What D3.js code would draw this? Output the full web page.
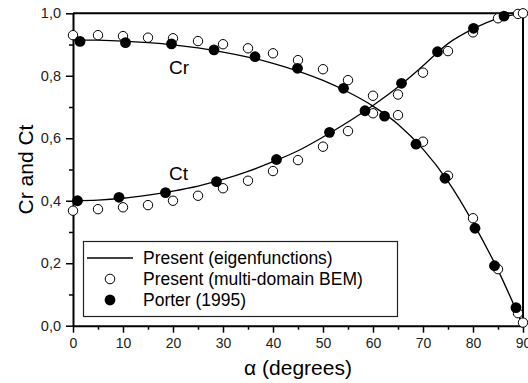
<!DOCTYPE html>
<html>
<head>
<meta charset="utf-8">
<script src="https://cdn.jsdelivr.net/npm/d3@7"></script>
<style>
  body { margin: 0; background: #fff; }
  svg { display: block; font-family: Arial, "Liberation Sans", sans-serif; }
</style>
</head>
<body>
<svg id="chart"></svg>
<script>
// curve (eigenfunctions), sampled every 5 degrees
const curveDeg = [0, 5, 10, 15, 20, 25, 30, 35, 40, 45, 50, 55, 60, 65, 70, 75, 80, 85, 90]
const crCurve = [0.915, 0.914, 0.911, 0.906, 0.899, 0.889, 0.876, 0.860, 0.840, 0.815, 0.785, 0.748, 0.703, 0.645, 0.565, 0.462, 0.330, 0.178, 0.0]
const ctCurve = [0.400, 0.402, 0.408, 0.418, 0.431, 0.447, 0.468, 0.494, 0.525, 0.560, 0.604, 0.652, 0.705, 0.764, 0.832, 0.903, 0.950, 0.984, 1.0]

// multi-domain BEM (open circles)
const bemDeg = [0, 5, 10, 15, 20, 25, 30, 35, 40, 45, 50, 55, 60, 65, 70, 75, 80, 85, 89, 90]
const crBem = [0.930, 0.930, 0.927, 0.922, 0.920, 0.911, 0.901, 0.888, 0.872, 0.850, 0.821, 0.786, 0.736, 0.674, 0.589, 0.480, 0.344, 0.181, 0.040, 0.01]
const ctBem = [0.368, 0.373, 0.379, 0.386, 0.400, 0.416, 0.440, 0.464, 0.495, 0.530, 0.573, 0.623, 0.680, 0.740, 0.810, 0.879, 0.939, 0.984, 0.998, 1.0]

// Porter (1995) (filled circles)
const crPorterDeg = [1.4, 10.5, 19.7, 28.2, 36.4, 44.9, 54.1, 62.3, 68.6, 74.4, 80.4, 84.3, 88.6]
const crPorter = [0.910, 0.906, 0.902, 0.883, 0.861, 0.824, 0.760, 0.671, 0.581, 0.472, 0.312, 0.192, 0.058]
const ctPorterDeg = [0.9, 9.2, 18.5, 28.7, 40.7, 51.3, 58.4, 65.7, 72.9, 80.1, 86.2]
const ctPorter = [0.400, 0.411, 0.426, 0.461, 0.532, 0.619, 0.688, 0.776, 0.877, 0.952, 0.991]

const xTicks = [0, 10, 20, 30, 40, 50, 60, 70, 80, 90]
const yTicks = [0, 0.2, 0.4, 0.6, 0.8, 1.0]
const legendLabels = ["Present (eigenfunctions)", "Present (multi-domain BEM)", "Porter (1995)"]

const width = 528
const height = 383
const margin = { top: 13.3, right: 5, bottom: 57.3, left: 73 }

const svg = d3.select("#chart").attr("width", width).attr("height", height)

const x = d3.scaleLinear().domain([0, 90]).range([margin.left, width - margin.right])
const y = d3.scaleLinear().domain([0, 1]).range([height - margin.bottom, margin.top])

const comma = d3.formatLocale({ decimal: ",", thousands: ".", grouping: [3], currency: ["", ""] }).format(".1f")

// minor ticks
svg.append("g")
  .attr("transform", `translate(0,${y(0)})`)
  .call(d3.axisBottom(x).tickValues(d3.range(5, 90, 10)).tickSize(4).tickFormat(""))
  .call((g) => g.select(".domain").remove())
  .selectAll("line").attr("stroke-width", 1.5)
svg.append("g")
  .attr("transform", `translate(${x(0)},0)`)
  .call(d3.axisLeft(y).tickValues(d3.range(0.1, 1, 0.2)).tickSize(4).tickFormat(""))
  .call((g) => g.select(".domain").remove())
  .selectAll("line").attr("stroke-width", 1.5)

// major axes
const xAxis = svg.append("g")
  .attr("transform", `translate(0,${y(0)})`)
  .call(d3.axisBottom(x).tickValues(xTicks).tickSize(7).tickSizeOuter(0).tickPadding(5))
xAxis.selectAll("text").attr("font-size", 14).attr("font-family", "Arial, 'Liberation Sans'").attr("fill", "#222")

const yAxis = svg.append("g")
  .attr("transform", `translate(${x(0)},0)`)
  .call(d3.axisLeft(y).tickValues(yTicks).tickSize(7).tickSizeOuter(0).tickPadding(5).tickFormat(comma))
yAxis.selectAll("text").attr("font-size", 14.5).attr("font-family", "Arial, 'Liberation Sans'").attr("fill", "#222")

svg.selectAll(".tick line").attr("stroke-width", 1.5)
svg.selectAll(".domain").attr("stroke-width", 2)

// frame top/right
svg.append("path")
  .attr("d", `M${x(0)},${y(1)}H${x(90)}V${y(0)}`)
  .attr("fill", "none")
  .attr("stroke", "#000")
  .attr("stroke-width", 2)

// curves
const line = d3.line()
  .x((d, i) => x(curveDeg[i]))
  .y((d) => y(d))
  .curve(d3.curveMonotoneX)

svg.selectAll("path.curve")
  .data([crCurve, ctCurve])
  .join("path")
  .attr("class", "curve")
  .attr("d", line)
  .attr("fill", "none")
  .attr("stroke", "#000")
  .attr("stroke-width", 1.3)

// open circles
const open = bemDeg.map((d, i) => [d, crBem[i]]).concat(bemDeg.map((d, i) => [d, ctBem[i]]))
svg.append("g")
  .selectAll("circle")
  .data(open)
  .join("circle")
  .attr("cx", (d) => x(d[0]))
  .attr("cy", (d) => y(d[1]))
  .attr("r", 4.7)
  .attr("fill", "#fff")
  .attr("stroke", "#000")
  .attr("stroke-width", 1)

// filled circles
const filled = crPorterDeg.map((d, i) => [d, crPorter[i]]).concat(ctPorterDeg.map((d, i) => [d, ctPorter[i]]))
svg.append("g")
  .selectAll("circle")
  .data(filled)
  .join("circle")
  .attr("cx", (d) => x(d[0]))
  .attr("cy", (d) => y(d[1]))
  .attr("r", 5.4)
  .attr("fill", "#000")

// curve labels
svg.append("text").attr("x", 169).attr("y", 74).attr("font-size", 19).text("Cr")
svg.append("text").attr("x", 169).attr("y", 180).attr("font-size", 19).text("Ct")

// axis titles
svg.append("text")
  .attr("x", 298).attr("y", 375)
  .attr("text-anchor", "middle")
  .attr("font-size", 21)
  .text("α (degrees)")
svg.append("text")
  .attr("transform", `translate(33,${(y(0) + y(1)) / 2}) rotate(-90)`)
  .attr("text-anchor", "middle")
  .attr("font-size", 21)
  .text("Cr and Ct")

// legend
const lg = svg.append("g")
lg.append("rect")
  .attr("x", 83.5).attr("y", 241.5)
  .attr("width", 314).attr("height", 75)
  .attr("fill", "#fff")
  .attr("stroke", "#222")
  .attr("stroke-width", 1.2)
const rowY = [258, 279, 300]
lg.append("line").attr("x1", 87).attr("x2", 133).attr("y1", rowY[0]).attr("y2", rowY[0]).attr("stroke", "#000").attr("stroke-width", 1.3)
lg.append("circle").attr("cx", 110).attr("cy", rowY[1]).attr("r", 4.8).attr("fill", "#fff").attr("stroke", "#000")
lg.append("circle").attr("cx", 110).attr("cy", rowY[2]).attr("r", 5.4).attr("fill", "#000")
lg.selectAll("text")
  .data(legendLabels)
  .join("text")
  .attr("x", 143)
  .attr("y", (d, i) => rowY[i])
  .attr("dy", "0.35em")
  .attr("font-size", 17.5)
  .text((d) => d)
</script>
</body>
</html>
